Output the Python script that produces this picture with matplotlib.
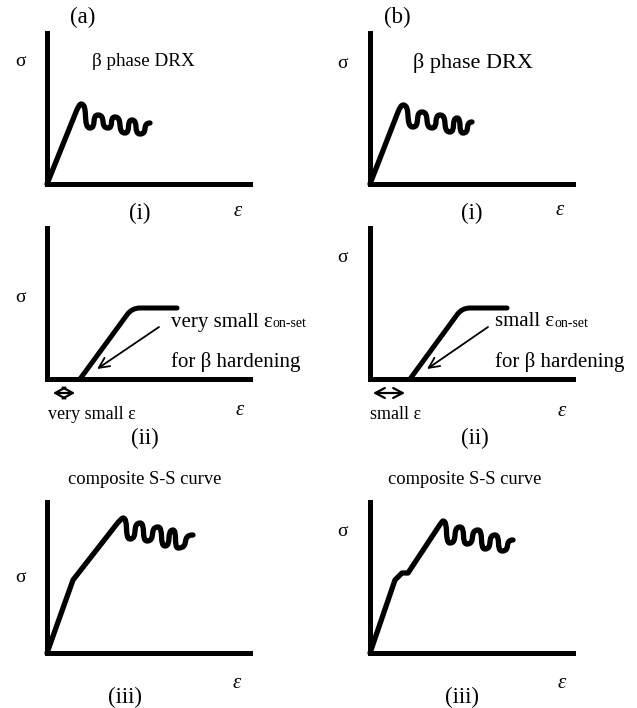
import numpy as np
import matplotlib.pyplot as plt
from matplotlib.path import Path
from matplotlib.patches import PathPatch

plt.rcParams['font.family'] = ['Liberation Serif', 'DejaVu Serif']

W, H = 637, 708

# schematic curves, strain / stress in arbitrary units (axes 0-20.3 by 0-15.1)
# (i) beta phase DRX: straight rise, then the wiggles (peak, valley, ...)
a1_rise_e = [0.0, 2.9]
a1_rise_s = [0.0, 7.2]
a1_wig_e = [3.4, 4.3, 5.1, 6.1, 6.8, 7.8, 8.5, 9.3, 10.3]
a1_wig_s = [8.0, 5.6, 6.9, 5.6, 6.7, 5.1, 6.4, 5.0, 6.1]

b1_rise_e = [0.0, 2.8]
b1_rise_s = [0.0, 7.2]
b1_wig_e = [3.3, 4.3, 5.2, 6.2, 7.0, 8.0, 8.7, 9.3, 10.2]
b1_wig_s = [7.9, 5.7, 7.2, 5.6, 6.9, 5.2, 6.6, 5.1, 6.2]

# (ii) beta hardening: onset, corner, plateau end
a2_e = [3.3, 8.5, 13.0]
a2_s = [0.0, 7.1, 7.1]
b2_e = [4.0, 9.2, 13.7]
b2_s = [0.0, 7.1, 7.1]

# pointer arrows (tail -> head) and small strain markers
a2_arrow = [(11.2, 5.2), (5.0, 1.0)]
b2_arrow = [(11.8, 5.2), (5.7, 1.0)]
a2_span = [0.6, 2.8]
b2_span = [0.3, 3.5]

# (iii) composite curve
a3_rise_e = [0.0, 2.6, 6.9]
a3_rise_s = [0.0, 7.3, 12.8]
a3_wig_e = [7.6, 8.3, 9.3, 10.0, 11.1, 11.8, 12.6, 13.1, 14.6]
a3_wig_s = [13.5, 11.4, 13.0, 11.2, 12.6, 10.7, 12.3, 10.5, 11.8]

b3_rise_e = [0.0, 2.5, 3.2, 3.8, 6.9]
b3_rise_s = [0.0, 7.3, 8.0, 8.0, 12.7]
b3_wig_e = [7.3, 8.0, 9.0, 9.7, 10.8, 11.5, 12.5, 13.2, 14.3]
b3_wig_s = [13.2, 11.0, 12.6, 10.9, 12.3, 10.4, 11.8, 10.2, 11.3]


def wiggle_path(rise_e, rise_s, wig_e, wig_s, k=0.85):
    verts = [(rise_e[0], rise_s[0])]
    codes = [Path.MOVETO]
    for e, s in zip(rise_e[1:], rise_s[1:]):
        verts.append((e, s))
        codes.append(Path.LINETO)
    # round the knee into the first peak
    (x0, y0), (x1, y1) = verts[-2], verts[-1]
    cx = x1 + (wig_s[0] - y1) * (x1 - x0) / (y1 - y0)
    verts += [(cx, wig_s[0]), (wig_e[0], wig_s[0])]
    codes += [Path.CURVE3] * 2
    for i in range(1, len(wig_e)):
        xa, ya = wig_e[i - 1], wig_s[i - 1]
        xb, yb = wig_e[i], wig_s[i]
        d = xb - xa
        verts += [(xa + k * d, ya), (xb - k * d, yb), (xb, yb)]
        codes += [Path.CURVE4] * 3
    return Path(verts, codes)


def corner_path(e, s, r=0.8):
    p0, c, p2 = np.array([e[0], s[0]]), np.array([e[1], s[1]]), np.array([e[2], s[2]])
    a = c + r * (p0 - c) / np.linalg.norm(p0 - c)
    b = c + r * (p2 - c) / np.linalg.norm(p2 - c)
    verts = [p0, a, c, b, p2]
    codes = [Path.MOVETO, Path.LINETO, Path.CURVE3, Path.CURVE3, Path.LINETO]
    return Path(verts, codes)


def panel(left, top):
    ax = fig.add_axes([left / W, 1 - (top + 151) / H, 203 / W, 151 / H])
    ax.set_xlim(0, 20.3)
    ax.set_ylim(0, 15.1)
    ax.patch.set_visible(False)
    for side in ['top', 'right']:
        ax.spines[side].set_visible(False)
    for side in ['left', 'bottom']:
        ax.spines[side].set_linewidth(3.6)
        ax.spines[side].set_capstyle('projecting')
    ax.set_xticks([])
    ax.set_yticks([])
    return ax


def draw(ax, path, lw=3.8):
    ax.add_patch(PathPatch(path, fill=False, lw=lw, ec='black',
                           joinstyle='round', capstyle='round', clip_on=False))


def label(x, y, s, size, **kw):
    kw.setdefault('ha', 'center')
    kw.setdefault('va', 'center')
    return fig.text(x / W, 1 - y / H, s, fontsize=size, **kw)


fig = plt.figure(figsize=(W / 100, H / 100), dpi=100)

ax_a1 = panel(47, 33)
ax_b1 = panel(370, 33)
ax_a2 = panel(47, 228)
ax_b2 = panel(370, 228)
ax_a3 = panel(47, 502)
ax_b3 = panel(370, 502)

draw(ax_a1, wiggle_path(a1_rise_e, a1_rise_s, a1_wig_e, a1_wig_s))
draw(ax_b1, wiggle_path(b1_rise_e, b1_rise_s, b1_wig_e, b1_wig_s))
draw(ax_a2, corner_path(a2_e, a2_s), lw=3.6)
draw(ax_b2, corner_path(b2_e, b2_s), lw=3.6)
draw(ax_a3, wiggle_path(a3_rise_e, a3_rise_s, a3_wig_e, a3_wig_s))
draw(ax_b3, wiggle_path(b3_rise_e, b3_rise_s, b3_wig_e, b3_wig_s))

for ax, arr, span, hl, hw in [(ax_a2, a2_arrow, a2_span, 0.36, 0.2),
                              (ax_b2, b2_arrow, b2_span, 0.34, 0.18)]:
    ax.annotate('', xy=arr[1], xytext=arr[0], annotation_clip=False,
                arrowprops=dict(arrowstyle='->,head_length=0.75,head_width=0.36',
                                lw=1.3, color='black', shrinkA=0, shrinkB=0))
    ax.annotate('', xy=(span[1], -1.4), xytext=(span[0], -1.4), annotation_clip=False,
                arrowprops=dict(arrowstyle='<->,head_length=%s,head_width=%s' % (hl, hw),
                                lw=1.6, color='black', shrinkA=0, shrinkB=0,
                                mutation_scale=20))

# panel letters
label(83, 17, '(a)', 16.5)
label(397, 17, '(b)', 16.5)

# row (i)
label(20, 62, 'σ', 14)
label(342, 63, 'σ', 14)
label(92, 62, 'β phase DRX', 13.7, ha='left')
label(413, 63, 'β phase DRX', 16, ha='left')
label(140, 213, '(i)', 16.5)
label(472, 213, '(i)', 16.5)
label(238, 212, 'ε', 15, style='italic')
label(560, 211, 'ε', 15, style='italic')

# row (ii)
label(20, 297, 'σ', 14)
label(342, 258, 'σ', 14)
for x0, txt in [(171, 'very small ε'), (495, 'small ε')]:
    t = label(x0, 322, txt, 15, ha='left')
    fig.add_artist(plt.Annotation('on-set', xy=(1.0, 0.08), xycoords=t,
                                  fontsize=10, ha='left', va='bottom'))
    label(x0, 362, 'for β hardening', 15, ha='left')
label(48, 415, 'very small ε', 13, ha='left')
label(370, 415, 'small ε', 13, ha='left')
label(240, 410, 'ε', 15, style='italic')
label(562, 412, 'ε', 15, style='italic')
label(145, 438, '(ii)', 16.5)
label(475, 438, '(ii)', 16.5)

# row (iii)
label(145, 480, 'composite S-S curve', 13.3)
label(465, 480, 'composite S-S curve', 13.3)
label(20, 577, 'σ', 14)
label(342, 532, 'σ', 14)
label(237, 683, 'ε', 15, style='italic')
label(562, 683, 'ε', 15, style='italic')
label(125, 697, '(iii)', 16.5)
label(462, 697, '(iii)', 16.5)

fig.savefig('out.png', dpi=100)
